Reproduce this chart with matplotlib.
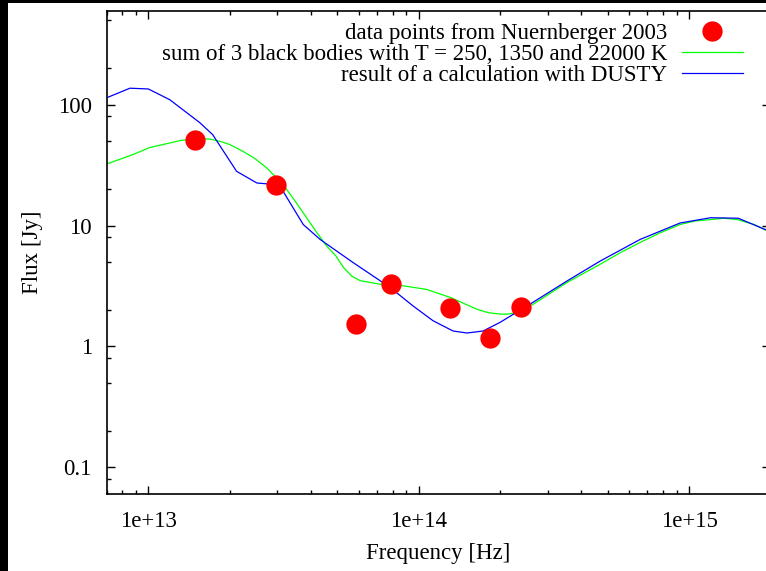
import numpy as np
import matplotlib
matplotlib.use("Agg")
import matplotlib.pyplot as plt
from matplotlib.patches import Rectangle
from matplotlib.ticker import LogLocator, FixedLocator, FixedFormatter, NullFormatter

# -------------------------
# Data
# -------------------------
# measured points (Nuernberger 2003)
obs_freq = [1.49e13, 2.97e13, 5.87e13, 7.9e13, 1.31e14, 1.83e14, 2.4e14]
obs_flux = [51.4, 21.8, 1.52, 3.27, 2.07, 1.17, 2.11]

# sum of 3 black bodies
bb_freq = [7.0e12, 8.78e12, 1.01e13, 1.17e13, 1.31e13, 1.51e13, 1.69e13, 1.84e13,
           2.0e13, 2.24e13, 2.48e13, 2.74e13, 2.97e13, 3.25e13, 3.52e13, 3.85e13,
           4.17e13, 4.57e13, 4.94e13, 5.29e13, 5.67e13, 6.07e13, 7.19e13, 8.53e13,
           1.07e14, 1.31e14, 1.46e14, 1.64e14, 1.81e14, 2.0e14, 2.14e14, 2.31e14,
           2.48e14, 2.65e14, 3.53e14, 4.69e14, 5.55e14, 6.59e14, 7.81e14, 9.27e14,
           1.05e15, 1.2e15, 1.35e15, 1.51e15, 1.74e15, 2.0e15]
bb_flux = [32.3, 38.7, 44.2, 47.6, 50.5, 52.4, 51.9, 49.8,
           46.8, 41.1, 35.8, 30.0, 25.0, 19.9, 15.5, 11.6,
           8.93, 6.76, 5.6, 4.45, 3.8, 3.5, 3.27, 3.20,
           2.96, 2.54, 2.28, 2.03, 1.90, 1.85, 1.85, 1.91,
           2.07, 2.23, 3.37, 4.78, 5.94, 7.24, 8.70, 10.2,
           10.9, 11.2, 11.5, 11.2, 10.2, 8.77]

# DUSTY model
dusty_freq = [7.0e12, 8.55e12, 1.0e13, 1.2e13, 1.55e13, 1.73e13, 2.12e13, 2.52e13,
              2.77e13, 3.12e13, 3.74e13, 4.32e13, 5.71e13, 7.83e13, 9.53e13, 1.13e14,
              1.34e14, 1.51e14, 1.73e14, 2.0e14, 2.65e14, 3.54e14, 4.69e14, 6.59e14,
              9.27e14, 1.2e15, 1.52e15, 2.0e15]
dusty_flux = [114, 137, 135, 110, 71, 56.5, 28.1, 22.5,
              22.1, 19.9, 10.2, 7.67, 4.95, 3.08, 2.16, 1.63,
              1.34, 1.29, 1.34, 1.58, 2.32, 3.48, 5.08, 7.67,
              10.5, 11.6, 11.5, 8.9]

plt.rcParams['font.family'] = ['Liberation Serif', 'DejaVu Serif']
plt.rcParams['font.size'] = 16.5

W, H = 766, 571
fig = plt.figure(figsize=(W / 100, H / 100), dpi=100, facecolor="black")
fig.patches.append(Rectangle((8.3 / W, 0), 1, 1 - 3.3 / H, transform=fig.transFigure,
                             facecolor="white", edgecolor="none", zorder=-10))

left, right, top, bottom = 106.5, 770.4, 10.7, 494
ax = fig.add_axes([left / W, 1 - bottom / H, (right - left) / W, (bottom - top) / H])

ax.plot(obs_freq, obs_flux, 'o', color='red', markersize=14.6, markeredgewidth=0,
        label="data points from Nuernberger 2003", zorder=3)
ax.plot(bb_freq, bb_flux, '-', color='#00ff00', lw=0.9,
        label="sum of 3 black bodies with T = 250, 1350 and 22000 K")
ax.plot(dusty_freq, dusty_flux, '-', color='#0000ff', lw=0.9,
        label="result of a calculation with DUSTY")

ax.set_xscale('log')
ax.set_yscale('log')
ax.set_xlim(7e12, 2e15)
ax.set_ylim(0.06, 600)

ax.xaxis.set_major_locator(FixedLocator([1e13, 1e14, 1e15]))
ax.xaxis.set_major_formatter(FixedFormatter(["1e+13", "1e+14", "1e+15"]))
ax.xaxis.set_minor_locator(LogLocator(base=10, subs=np.arange(2, 10), numticks=20))
ax.xaxis.set_minor_formatter(NullFormatter())

ax.yaxis.set_major_locator(FixedLocator([0.1, 1, 10, 100]))
ax.yaxis.set_major_formatter(FixedFormatter(["0.1", "1", "10", "100"]))
ax.yaxis.set_minor_locator(LogLocator(base=10, subs=[2, 5, 8], numticks=20))
ax.yaxis.set_minor_formatter(NullFormatter())

ax.tick_params(which='both', direction='in', top=True, right=True, width=1)
ax.tick_params(which='major', length=5.8)
ax.tick_params(which='minor', length=2.9)
ax.tick_params(axis='x', which='major', pad=12.5)
ax.tick_params(axis='y', which='major', pad=10.5)
for s in ax.spines.values():
    s.set_linewidth(1.2)

ax.set_xlabel("Frequency [Hz]", labelpad=7.3)
ax.set_ylabel("Flux [Jy]", labelpad=11)

ax.legend(loc='upper right',
          bbox_to_anchor=((752 - left) / (right - left), 1.0 - 3 / (bottom - top)),
          markerfirst=False, frameon=False, handlelength=2.66, handletextpad=0.65,
          labelspacing=0.0, borderaxespad=0.2, borderpad=0.2, numpoints=1)

fig.savefig("out.png", dpi=100, facecolor=fig.get_facecolor())
